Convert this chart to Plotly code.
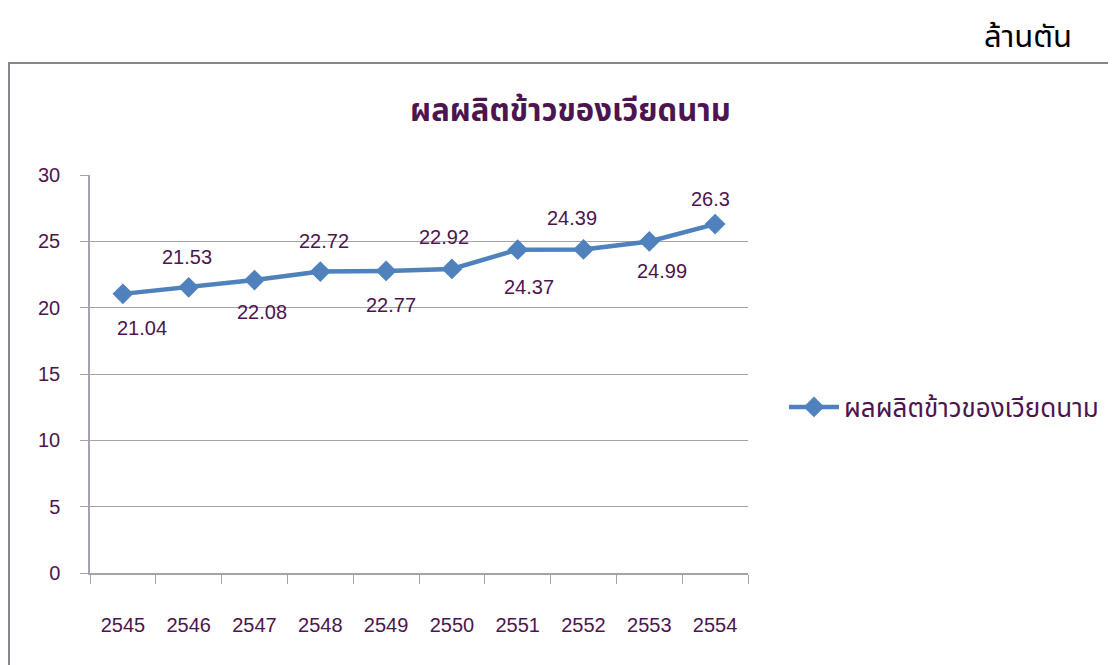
import plotly.graph_objects as go

years = ["2545", "2546", "2547", "2548", "2549", "2550", "2551", "2552", "2553", "2554"]
values = [21.04, 21.53, 22.08, 22.72, 22.77, 22.92, 24.37, 24.39, 24.99, 26.3]
series_name = "ผลผลิตข้าวของเวียดนาม"
title_text = "ผลผลิตข้าวของเวียดนาม"
unit_text = "ล้านตัน"

FONT = "Liberation Sans, Arial, Noto Sans Thai, Noto Sans, sans-serif"
PURPLE = "#4d1450"
GRID = "#a8a0aa"
LINE = "#4f81bd"

# data-label pixel offsets (style only), as placed in the original chart
LABEL_DX = [19, -2, 7, 4, 5, -8, 11, -12, 13, -5]
LABEL_DY = [-34, 30, -32, 31, -34, 32, -37, 31, -30, 25]

# page body has an 8px margin; figure sized so it fits the window
W, H = 1108, 657
L, R, T, B = 82, 368, 167, 92
pw, ph = W - L - R, H - T - B


def px(rx):  # reference-screen x -> paper
    return (rx - 90) / pw


def py(ry):  # reference-screen y -> paper
    return (573 - ry) / ph


fig = go.Figure()
fig.add_trace(go.Scatter(
    x=years, y=values, mode="lines+markers", name=series_name,
    line=dict(color=LINE, width=4.5),
    marker=dict(symbol="diamond", size=16, color=LINE),
))

for i, v in enumerate(values):
    fig.add_annotation(x=i, y=v, xref="x", yref="y", text=f"{v:g}", showarrow=False,
                       xanchor="center", yanchor="middle",
                       xshift=LABEL_DX[i], yshift=LABEL_DY[i],
                       font=dict(family=FONT, size=20, color=PURPLE))

fig.add_annotation(xref="paper", yref="paper", x=px(570), y=py(110),
                   xanchor="center", yanchor="middle",
                   text=f"<b>{title_text}</b>", showarrow=False,
                   font=dict(family=FONT, size=31, color=PURPLE))
fig.add_annotation(xref="paper", yref="paper", x=px(1074), y=py(37),
                   xanchor="right", yanchor="middle", text=unit_text, showarrow=False,
                   font=dict(family=FONT, size=31, color="black"))

fig.add_shape(type="rect", xref="paper", yref="paper",
              x0=px(9), x1=px(1140), y0=py(700), y1=py(63),
              line=dict(color="#8a848c", width=2), layer="below")

fig.update_layout(
    width=W, height=H,
    margin=dict(l=L, r=R, t=T, b=B),
    paper_bgcolor="white", plot_bgcolor="white",
    showlegend=True,
    legend=dict(x=px(784), y=py(407), xanchor="left", yanchor="middle",
                font=dict(family=FONT, size=26, color=PURPLE),
                bgcolor="rgba(0,0,0,0)", itemwidth=50),
    xaxis=dict(type="category", tickson="boundaries", ticks="outside", ticklen=9,
               tickcolor=GRID, showline=True, linecolor=GRID, linewidth=1.5,
               showgrid=False, ticklabelstandoff=33,
               tickfont=dict(family=FONT, size=20, color=PURPLE),
               range=[-0.5, 9.5]),
    yaxis=dict(range=[0, 30], dtick=5, showgrid=True, gridcolor=GRID, gridwidth=1,
               showline=True, linecolor=GRID, linewidth=1.5,
               ticks="outside", ticklen=8, tickcolor=GRID, zeroline=False,
               ticklabelstandoff=16,
               tickfont=dict(family=FONT, size=20, color=PURPLE)),
)

fig.write_html("out.html")
